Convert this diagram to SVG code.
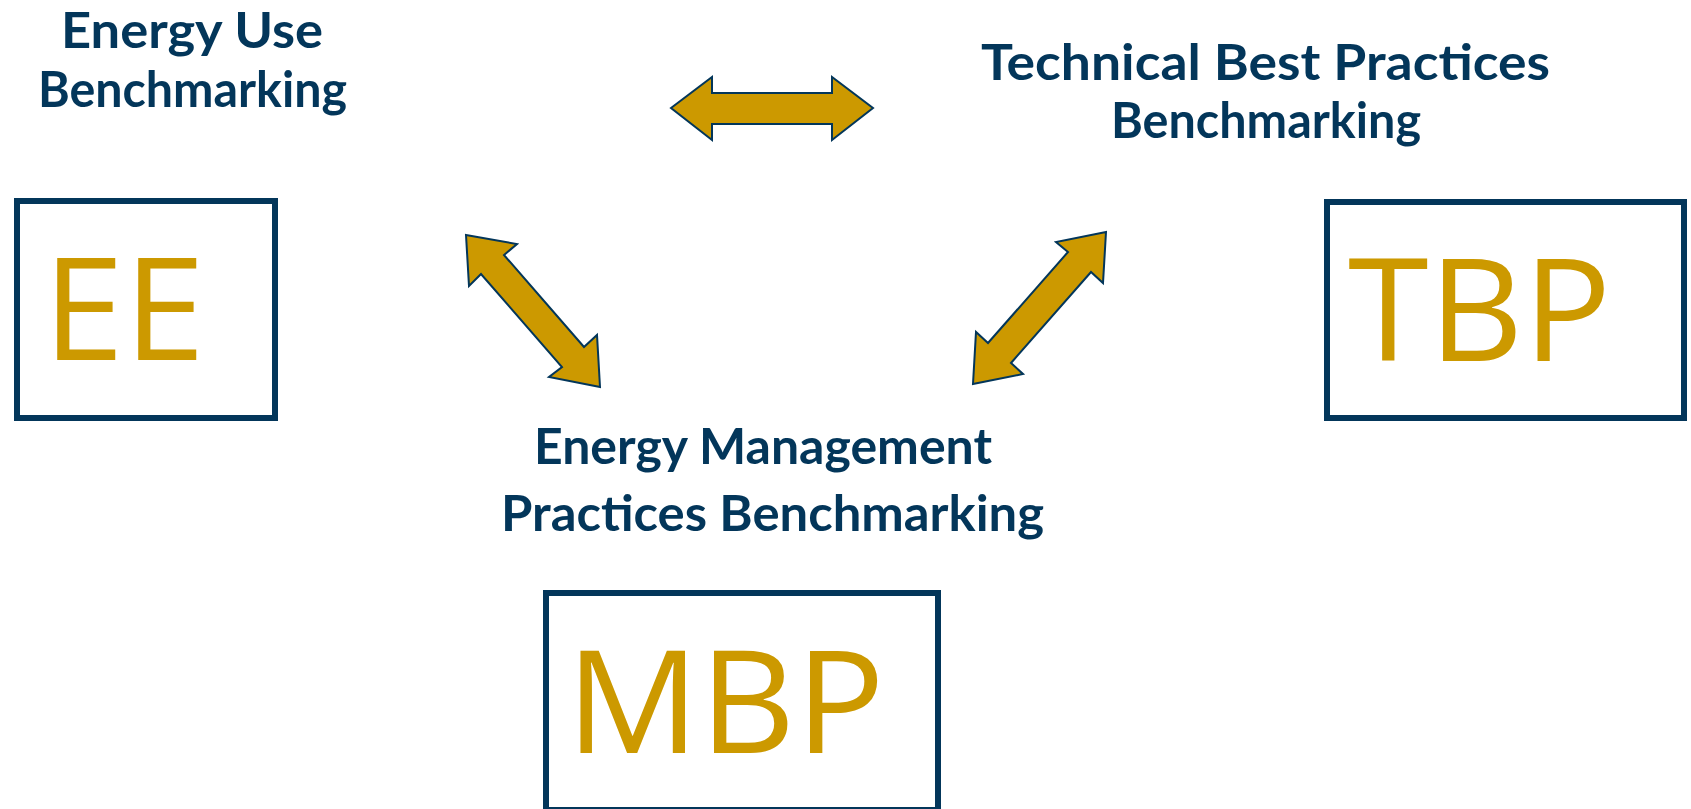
<svg xmlns="http://www.w3.org/2000/svg" width="1691" height="809" viewBox="0 0 1691 809">
<style>
.lbl{font-family:Lato,"Open Sans",sans-serif;font-weight:bold;font-size:50px;fill:#03365a}
.big{font-family:"Open Sans","Noto Sans",sans-serif;font-size:143px;fill:#cc9900}
.box{fill:#ffffff;stroke:#03365a;stroke-width:6}
.arr{fill:#cc9900;stroke:#03365a;stroke-width:2;stroke-linejoin:miter}
</style>
<rect width="1691" height="809" fill="#ffffff"/>
<g id="label-energy-use">
<text class="lbl" x="61" y="48" textLength="262" lengthAdjust="spacingAndGlyphs">Energy Use</text>
<text class="lbl" x="38" y="107" textLength="309" lengthAdjust="spacingAndGlyphs">Benchmarking</text>
</g>
<g id="label-technical">
<text class="lbl" x="981" y="80" textLength="569" lengthAdjust="spacingAndGlyphs">Technical Best Practices</text>
<text class="lbl" x="1111" y="138" textLength="310" lengthAdjust="spacingAndGlyphs">Benchmarking</text>
</g>
<g id="label-management">
<text class="lbl" x="534" y="464" textLength="458" lengthAdjust="spacingAndGlyphs">Energy Management</text>
<text class="lbl" x="501" y="531" textLength="543" lengthAdjust="spacingAndGlyphs">Practices Benchmarking</text>
</g>
<g id="node-ee">
<rect class="box" x="17" y="201" width="258" height="217"/>
<text class="big" transform="translate(43,360) scale(1.02,1)">EE</text>
</g>
<g id="node-tbp">
<rect class="box" x="1327" y="202" width="357" height="216"/>
<text class="big" transform="translate(1348,361) scale(1.024,1)">TBP</text>
</g>
<g id="node-mbp">
<rect class="box" x="546" y="593" width="392" height="217"/>
<text class="big" transform="translate(566,753) scale(1.038,1)">MBP</text>
</g>
<g id="connectors">
<polygon class="arr" points="671,108 712,77 712,93 832,93 832,77 873,108 832,140 832,124 712,124 712,140"/>
<polygon class="arr" points="466,235 517,244 504,255 584,347 597,335 600,387 549,377 562,367 481,274 469,286"/>
<polygon class="arr" points="1106,232 1103,283 1091,272 1011,363 1023,374 973,384 976,332 988,343 1068,252 1056,242"/>
</g>
</svg>
